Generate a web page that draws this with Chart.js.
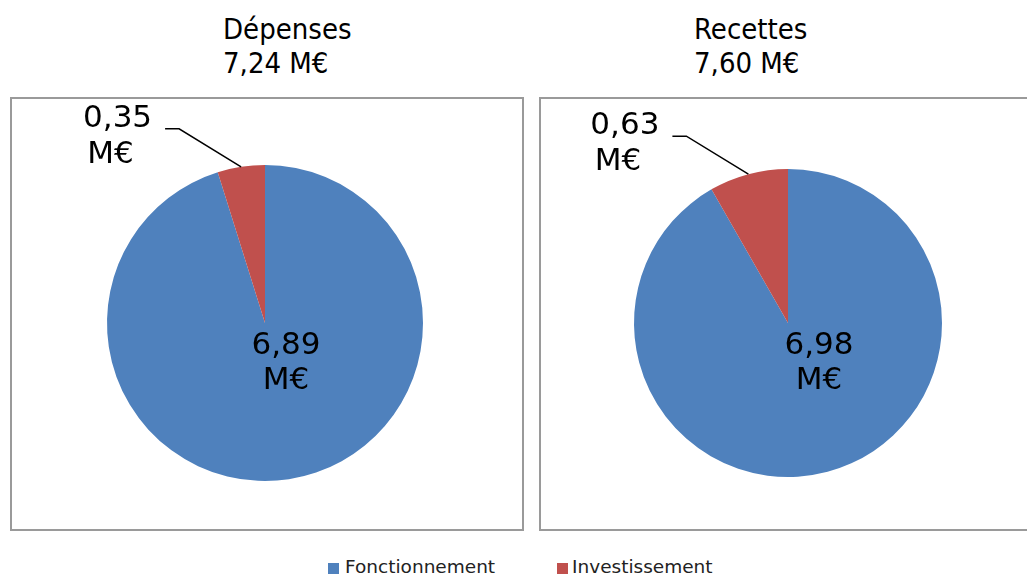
<!DOCTYPE html>
<html>
<head>
<meta charset="utf-8">
<script src="https://cdn.jsdelivr.net/npm/chart.js@4.4.0/dist/chart.umd.min.js"></script>
<style>
  body { margin: 0; width: 1027px; height: 575px; overflow: hidden; background: #fff; position: relative; font-family: "DejaVu Sans", sans-serif; }
  .title { position: absolute; top: 12px; font-family: "DejaVu Sans Condensed", "Liberation Sans Narrow", "DejaVu Sans", sans-serif; font-size: 29px; line-height: 34px; color: #000; white-space: nowrap; }
  .box { position: absolute; top: 97px; width: 510px; height: 430px; border: 2px solid #9a9a9a; }
  .box canvas { display: block; }
  .legend { position: absolute; top: 556px; left: 0; width: 1027px; height: 20px; font-size: 18.5px; color: #222; }
  .legend span { position: absolute; white-space: nowrap; }
  .legend i { position: absolute; top: 7px; width: 11px; height: 11px; }
</style>
</head>
<body>
<div class="title" id="t1" style="left:223px"></div>
<div class="title" id="t2" style="left:694px"></div>
<div class="box" style="left:10px"><canvas id="c1" width="510" height="430"></canvas></div>
<div class="box" style="left:539px"><canvas id="c2" width="510" height="430"></canvas></div>
<div class="legend" id="legend"></div>
<script>
// data
const categories = ["Fonctionnement", "Investissement"];
const depenses = [6.89, 0.35];
const recettes = [6.98, 0.63];
const chartTitles = ["Dépenses", "Recettes"];
const totals = [7.24, 7.60];
const colors = ["#4F81BD", "#C0504D"];

const fmt = v => v.toFixed(2).replace(".", ",");

document.getElementById("t1").innerHTML = chartTitles[0] + "<br>" + fmt(totals[0]) + " M€";
document.getElementById("t2").innerHTML = chartTitles[1] + "<br>" + fmt(totals[1]) + " M€";

// legend
const legendPos = [[328, 345], [557, 572]];
const legend = document.getElementById("legend");
categories.forEach((c, i) => {
  legend.insertAdjacentHTML("beforeend",
    '<i style="left:' + legendPos[i][0] + 'px;background:' + colors[i] + '"></i>' +
    '<span style="left:' + legendPos[i][1] + 'px">' + c + '</span>');
});

// slice labels, excel style
const sliceLabels = {
  id: "sliceLabels",
  afterDatasetsDraw(chart, args, opts) {
    const ctx = chart.ctx;
    const meta = chart.getDatasetMeta(0);
    const vals = chart.data.datasets[0].data;
    ctx.save();
    ctx.font = '31px "DejaVu Sans", sans-serif';
    ctx.fillStyle = "#000";
    ctx.textBaseline = "middle";
    ctx.textAlign = "center";
    meta.data.forEach((arc, i) => {
      const p = arc.getProps(["x", "y", "startAngle", "endAngle", "outerRadius"], true);
      const txt = fmt(vals[i]);
      if (i === 0) {
        const lx = p.x + opts.inside[0], ly = p.y + opts.inside[1];
        ctx.fillText(txt, lx, ly);
        ctx.fillText("M€", lx, ly + 35);
      } else {
        const mid = (p.startAngle + p.endAngle) / 2;
        const px = p.x + Math.cos(mid) * p.outerRadius;
        const py = p.y + Math.sin(mid) * p.outerRadius;
        const ex = px - 62, ey = py - 38;
        const hx = ex - 14;
        ctx.strokeStyle = "#000";
        ctx.lineWidth = 1.5;
        ctx.beginPath();
        ctx.moveTo(px, py);
        ctx.lineTo(ex, ey);
        ctx.lineTo(hx, ey);
        ctx.stroke();
        const w1 = ctx.measureText(txt).width;
        const cx1 = hx - 13 - w1 / 2;
        ctx.fillText(txt, cx1, ey - 10);
        ctx.fillText("M€", cx1 - 7, ey + 26);
      }
    });
    ctx.restore();
  }
};

function makePie(id, values, pad, inside) {
  new Chart(document.getElementById(id), {
    type: "pie",
    data: {
      labels: categories,
      datasets: [{ data: values, backgroundColor: colors, borderWidth: 0 }]
    },
    options: {
      responsive: false,
      animation: false,
      layout: { padding: pad },
      plugins: {
        legend: { display: false },
        tooltip: { enabled: false },
        sliceLabels: { inside: inside }
      }
    },
    plugins: [sliceLabels]
  });
}

makePie("c1", depenses, { left: 95, right: 99, top: 66, bottom: 48 }, [21, 23]);
makePie("c2", recettes, { left: 93, right: 109, top: 70, bottom: 52 }, [31, 23]);
</script>
</body>
</html>
